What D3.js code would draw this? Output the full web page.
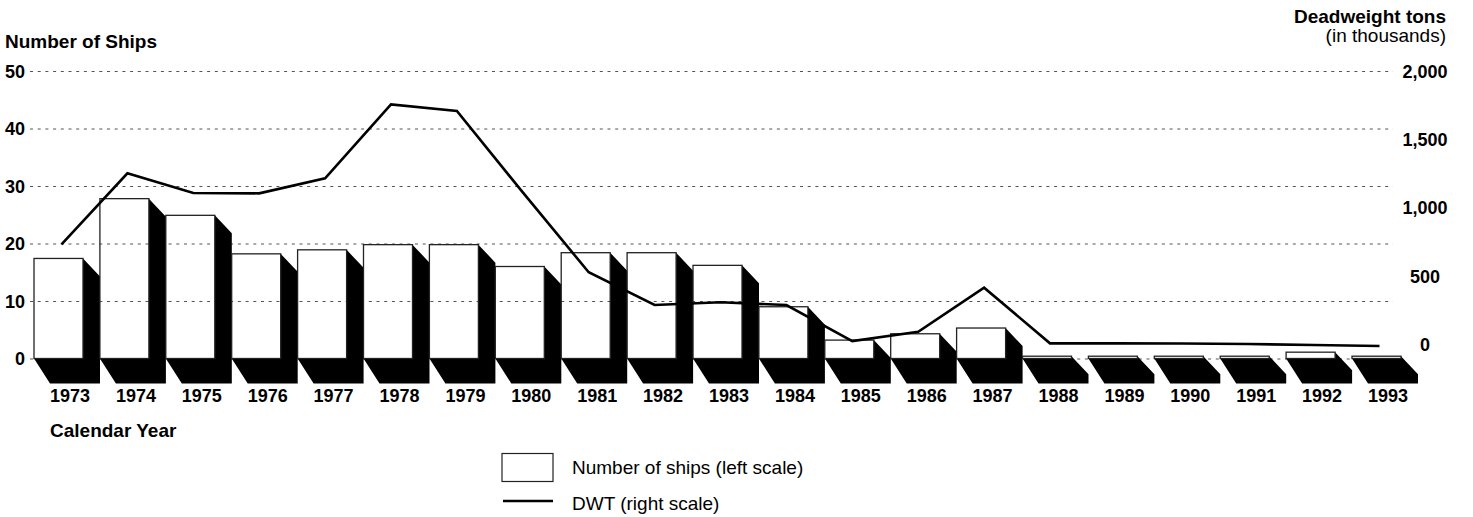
<!DOCTYPE html>
<html>
<head>
<meta charset="utf-8">
<script src="https://cdn.jsdelivr.net/npm/d3@7"></script>
<style>
  body { margin: 0; background: #fff; }
  svg text { font-family: "Liberation Sans", Arial, Helvetica, sans-serif; fill: #000; }
</style>
</head>
<body>
<svg id="chart" width="1473" height="517"></svg>
<script>
// Calendar years shown on the x axis
const years = [1973, 1974, 1975, 1976, 1977, 1978, 1979, 1980, 1981, 1982, 1983,
               1984, 1985, 1986, 1987, 1988, 1989, 1990, 1991, 1992, 1993];
// Number of ships (left scale)
const ships = [17.4, 27.8, 24.9, 18.2, 18.9, 19.8, 19.8, 16.0, 18.4, 18.4, 16.2,
               9.0, 3.2, 4.3, 5.3, 0.4, 0.4, 0.4, 0.4, 1.1, 0.4];
// Deadweight tons, in thousands (right scale)
const dwt = [760, 1280, 1135, 1133, 1243, 1785, 1736, 1140, 555, 315, 335,
             315, 51, 119, 442, 34, 34, 33, 29, 22, 15];
// Tick values for both value axes
const shipTicks = [0, 10, 20, 30, 40, 50];
const dwtTicks = [0, 500, 1000, 1500, 2000];

const svg = d3.select("#chart");

const x = d3.scaleBand().domain(years).range([34, 1401]).paddingInner(0.2565).paddingOuter(0);
const yL = d3.scaleLinear().domain([0, 50]).range([358.5, 71]);
const yR = d3.scaleLinear().domain([0, 2000]).range([348, 75]);

// Left axis: labels plus dotted gridlines running across the plot
const gridLeft = 30, gridRight = 1393;
const leftAxis = svg.append("g")
  .attr("transform", `translate(${gridLeft},0)`)
  .call(d3.axisLeft(yL).tickValues(shipTicks).tickSize(-(gridRight - gridLeft)).tickPadding(5));
leftAxis.select(".domain").remove();
leftAxis.selectAll(".tick line")
  .attr("stroke", "#555").attr("stroke-width", 1).attr("stroke-dasharray", "3,4.7");
leftAxis.selectAll(".tick text")
  .attr("font-size", 18).attr("font-weight", "bold").attr("dy", "0.35em");

// Extruded black shadow behind each bar (side face + floor slab)
const depthSide = { dx: 17, dy: 18 };
const depthFloor = { dx: 16, dy: 25 };
const data = years.map((yr, i) => ({ year: yr, ships: ships[i], dwt: dwt[i] }));

svg.append("g").selectAll("polygon")
  .data(data)
  .join("polygon")
  .attr("fill", "#000")
  .attr("points", d => {
    const x0 = x(d.year), x1 = x0 + x.bandwidth();
    const yT = yL(d.ships), yB = yL(0);
    return [
      [x1, yT], [x1 + depthSide.dx, yT + depthSide.dy],
      [x1 + depthSide.dx, yB + depthFloor.dy], [x0 + depthFloor.dx, yB + depthFloor.dy],
      [x0, yB], [x1, yB]
    ].map(p => p.join(",")).join(" ");
  });

// Bar front faces (outlined, gridlines show through)
svg.append("g").selectAll("rect")
  .data(data)
  .join("rect")
  .attr("x", d => x(d.year))
  .attr("y", d => yL(d.ships))
  .attr("width", x.bandwidth())
  .attr("height", d => yL(0) - yL(d.ships))
  .attr("fill", "none")
  .attr("stroke", "#222")
  .attr("stroke-width", 1.3);

// DWT line
const line = d3.line()
  .x(d => x(d.year) + x.bandwidth() / 2 + 3)
  .y(d => yR(d.dwt));
svg.append("path")
  .datum(data)
  .attr("d", line)
  .attr("fill", "none")
  .attr("stroke", "#000")
  .attr("stroke-width", 2.6)
  .attr("stroke-linejoin", "miter");

// Right axis labels
const rightAxis = svg.append("g")
  .attr("transform", "translate(1425,0)")
  .call(d3.axisRight(yR).tickValues(dwtTicks).tickSize(0).tickFormat(d3.format(",")));
rightAxis.select(".domain").remove();
rightAxis.selectAll(".tick text")
  .attr("x", 0).attr("y", -4).attr("dy", "0.35em")
  .attr("text-anchor", "middle")
  .attr("font-size", 18).attr("font-weight", "bold");

// Year labels under the floor slabs
const xAxis = svg.append("g")
  .attr("transform", "translate(11.5,0)")
  .call(d3.axisBottom(x).tickSize(0));
xAxis.select(".domain").remove();
xAxis.selectAll(".tick text")
  .attr("y", 402).attr("dy", 0)
  .attr("font-size", 18).attr("font-weight", "bold");

// Axis titles
svg.append("text").attr("x", 5).attr("y", 48)
  .attr("font-size", 19).attr("font-weight", "bold").text("Number of Ships");
svg.append("text").attr("x", 1446).attr("y", 23).attr("text-anchor", "end")
  .attr("font-size", 19).attr("font-weight", "bold").text("Deadweight tons");
svg.append("text").attr("x", 1446).attr("y", 42).attr("text-anchor", "end")
  .attr("font-size", 19).text("(in thousands)");
svg.append("text").attr("x", 50).attr("y", 437)
  .attr("font-size", 19).attr("font-weight", "bold").text("Calendar Year");

// Legend
const legend = svg.append("g");
legend.append("rect")
  .attr("x", 502).attr("y", 453.5).attr("width", 51).attr("height", 28)
  .attr("fill", "#fff").attr("stroke", "#222").attr("stroke-width", 1.2);
legend.append("text").attr("x", 572).attr("y", 474)
  .attr("font-size", 19).text("Number of ships (left scale)");
legend.append("line")
  .attr("x1", 503).attr("x2", 553).attr("y1", 501).attr("y2", 501)
  .attr("stroke", "#000").attr("stroke-width", 2.6);
legend.append("text").attr("x", 572).attr("y", 510)
  .attr("font-size", 19).text("DWT (right scale)");
</script>
</body>
</html>
